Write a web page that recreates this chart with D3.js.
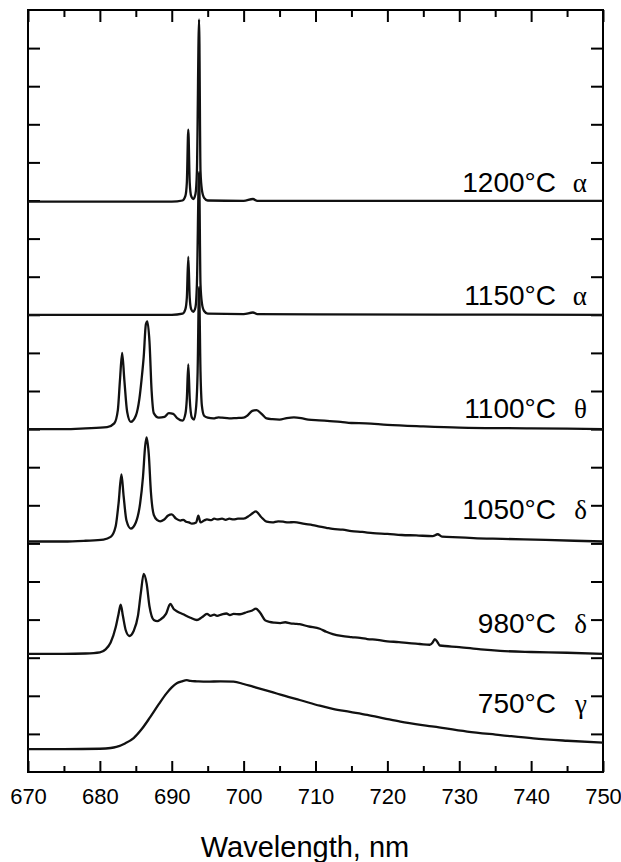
<!DOCTYPE html>
<html>
<head>
<meta charset="utf-8">
<script src="https://cdn.jsdelivr.net/npm/d3@7"></script>
<style>
  html, body { margin: 0; padding: 0; background: #fff; }
  svg { display: block; }
</style>
</head>
<body>
<svg id="chart" width="621" height="862"></svg>
<script>
// ---------------- data ----------------
const xTicksMajor = [670, 680, 690, 700, 710, 720, 730, 740, 750];
const xTicksMinor = [675, 685, 695, 705, 715, 725, 735, 745];
const yTicks = [1,2,3,4,5,6,7,8,9,10,11,12,13,14,15,16,17,18,19];

const temps  = ["750°C", "980°C", "1050°C", "1100°C", "1150°C", "1200°C"];
const phases = ["γ", "δ", "δ", "θ", "α", "α"];
const offsets = [0, 3.1, 6.05, 9.0, 12.0, 14.97];

const s750 = [
  [670,0.6],[675,0.6],[680,0.61],[681.5,0.63],[682.3,0.66],[683.5,0.75],[684.7,0.89],
  [685.8,1.12],[687,1.44],[688.2,1.78],[689.3,2.07],[690,2.22],[690.7,2.33],[691.4,2.38],
  [692.1,2.41],[692.6,2.39],[693.5,2.38],[694.9,2.37],[696.8,2.38],[698.6,2.37],[700,2.31],
  [701.3,2.24],[703,2.15],[704.6,2.06],[706.2,1.97],[707.8,1.89],[710.6,1.74],[712.4,1.66],
  [714.8,1.58],[717.2,1.50],[719.5,1.41],[721.8,1.32],[726.5,1.19],[731.1,1.06],
  [735.7,0.97],[740.3,0.88],[745,0.82],[750,0.77]
];
const s980 = [
  [670,0.0],[675,0.0],[678,0.01],[680,0.04],[680.8,0.12],[681.5,0.3],[682.2,0.7],[682.6,1.05],
  [682.9,1.29],[683.2,1.0],[683.6,0.62],[684.1,0.47],[684.7,0.6],[685.3,1.0],[685.7,1.6],
  [686.1,2.1],[686.5,1.85],[686.9,1.25],[687.5,0.89],[688.0,0.86],[688.4,0.9],[689.2,1.05],
  [689.8,1.31],[690.3,1.17],[690.7,1.12],[691.1,1.08],[691.6,1.04],[692,1.0],[692.6,0.95],
  [693.5,0.89],[694.2,0.96],[694.9,1.05],[695.4,1.0],[695.9,1.03],[696.3,1.0],[697.0,1.04],
  [697.6,1.06],[698.1,1.02],[698.6,1.05],[699.5,1.04],[700.5,1.1],[701.2,1.14],[701.7,1.19],
  [702.3,1.08],[703,0.88],[703.6,0.84],[704.3,0.82],[705.1,0.81],[705.8,0.83],[706.5,0.8],
  [707.2,0.79],[707.8,0.78],[709,0.72],[710.6,0.66],[711.5,0.58],[712.4,0.52],[713.6,0.47],
  [715,0.44],[716.2,0.42],[717.2,0.39],[718.6,0.37],[720,0.33],[721.6,0.31],[723,0.28],
  [724.5,0.26],[725.9,0.24],[726.3,0.3],[726.6,0.39],[727.0,0.3],[727.3,0.22],[730,0.18],
  [733,0.12],[735.7,0.08],[740,0.05],[745,0.03],[750,0.0]
];
const s1050 = [
  [670,0.0],[675,0.0],[678,0.02],[680.5,0.05],[681.5,0.12],[682.2,0.4],[682.6,1.0],[683.0,1.76],
  [683.3,1.2],[683.7,0.55],[684.3,0.34],[685.0,0.5],[685.6,1.0],[686.0,1.7],[686.3,2.5],
  [686.5,2.73],[686.8,2.3],[687.1,1.3],[687.5,0.7],[688.0,0.56],[688.4,0.53],[688.9,0.57],
  [689.5,0.68],[690.0,0.71],[690.6,0.6],[691.2,0.55],[691.6,0.57],[692.0,0.52],[692.4,0.5],
  [692.8,0.47],[693.4,0.5],[693.7,0.68],[694.0,0.5],[694.5,0.55],[694.9,0.58],[695.5,0.56],
  [695.9,0.6],[696.3,0.58],[697,0.6],[697.5,0.57],[698,0.6],[698.6,0.58],[699.2,0.6],
  [700,0.6],[700.8,0.68],[701.3,0.75],[701.7,0.79],[702.4,0.65],[703.2,0.52],[704,0.5],
  [704.8,0.53],[705.5,0.52],[706.2,0.5],[707,0.51],[708.5,0.46],[709.6,0.43],[710.6,0.39],
  [711.5,0.36],[712.4,0.33],[713.8,0.31],[715,0.27],[716.5,0.25],[718,0.22],[720,0.2],
  [722,0.17],[724,0.16],[726.3,0.14],[727,0.19],[727.6,0.13],[730,0.11],[732,0.09],
  [736,0.07],[742,0.04],[750,0.0]
];
const s1100 = [
  [670,0.0],[675,0.0],[678,0.02],[681,0.05],[682.0,0.15],[682.5,0.5],[682.8,1.3],[683.1,2.0],
  [683.4,1.3],[683.8,0.45],[684.3,0.19],[685.0,0.35],[685.5,0.8],[685.8,1.3],[686.1,1.9],
  [686.4,2.75],[686.6,2.83],[686.9,2.3],[687.2,1.0],[687.5,0.42],[688.2,0.3],[689.0,0.32],
  [689.6,0.42],[690.2,0.4],[690.8,0.28],[691.5,0.22],[691.9,0.4],[692.1,0.8],[692.3,1.7],
  [692.5,0.8],[692.8,0.3],[693.1,0.25],[693.4,0.6],[693.6,1.5],[693.8,3.73],[694.0,1.5],
  [694.2,0.6],[694.5,0.35],[695.0,0.3],[695.8,0.28],[696.5,0.31],[697,0.3],[698,0.28],
  [699,0.29],[700,0.3],[700.5,0.35],[701.2,0.48],[701.8,0.5],[702.5,0.4],[703.2,0.28],
  [704,0.26],[705,0.25],[706,0.29],[707,0.31],[708,0.29],[709,0.25],[710.5,0.23],[712,0.21],
  [713.5,0.19],[715,0.16],[717,0.15],[720,0.11],[725,0.07],[730,0.04],[740,0.02],[750,0.0]
];
const s1150 = [
  [670,0.0],[680,0.0],[690,0.0],[691.5,0.03],[691.9,0.15],[692.1,0.45],[692.3,1.52],
  [692.5,0.45],[692.7,0.15],[693.0,0.08],[693.3,0.2],[693.5,0.8],[693.8,3.75],[694.0,0.8],
  [694.2,0.3],[694.5,0.1],[695,0.03],[700,0.02],[701.3,0.06],[701.9,0.02],[710,0.01],[750,0.0]
];
const s1200 = [
  [670,0.0],[680,0.0],[690,0.0],[691.5,0.03],[691.9,0.15],[692.1,0.5],[692.3,1.89],
  [692.5,0.5],[692.7,0.15],[693.0,0.07],[693.3,0.2],[693.5,0.8],[693.8,4.78],[694.0,0.8],
  [694.2,0.3],[694.5,0.1],[695,0.03],[700,0.02],[701.3,0.07],[701.9,0.02],[710,0.02],[750,0.02]
];
const series = [s750, s980, s1050, s1100, s1150, s1200];

// ---------------- layout ----------------
const L = 28, R = 603, T = 10, B = 772;
const labelLift = [36, 21, 22, 11, 10, 10];

const svg = d3.select("#chart");
const x = d3.scaleLinear().domain([670, 750]).range([L, R]);
const y = d3.scaleLinear().domain([0, 20]).range([B, T]);

const sans = "'Liberation Sans', Arial, Helvetica, sans-serif";
const serif = "'Liberation Serif', 'Times New Roman', serif";

function styleAxis(g) {
  g.select(".domain").remove();
  g.selectAll(".tick line").attr("stroke", "#000").attr("stroke-width", 2);
}

// bottom axis: major (labelled) and minor
svg.append("g").attr("transform", `translate(0,${B})`)
  .call(d3.axisBottom(x).tickValues(xTicksMajor).tickSizeInner(-11).tickSizeOuter(0).tickPadding(16).tickFormat(d3.format("d")))
  .call(styleAxis)
  .call(g => g.selectAll("text").attr("font-family", sans).attr("font-size", 22).attr("fill", "#000"));
svg.append("g").attr("transform", `translate(0,${B})`)
  .call(d3.axisBottom(x).tickValues(xTicksMinor).tickSizeInner(-6).tickSizeOuter(0).tickFormat(""))
  .call(styleAxis);
// top axis
svg.append("g").attr("transform", `translate(0,${T})`)
  .call(d3.axisTop(x).tickValues(xTicksMajor).tickSizeInner(-12).tickSizeOuter(0).tickFormat(""))
  .call(styleAxis);
svg.append("g").attr("transform", `translate(0,${T})`)
  .call(d3.axisTop(x).tickValues(xTicksMinor).tickSizeInner(-7).tickSizeOuter(0).tickFormat(""))
  .call(styleAxis);
// left & right axes
svg.append("g").attr("transform", `translate(${L},0)`)
  .call(d3.axisLeft(y).tickValues(yTicks).tickSizeInner(-12).tickSizeOuter(0).tickFormat(""))
  .call(styleAxis);
svg.append("g").attr("transform", `translate(${R},0)`)
  .call(d3.axisRight(y).tickValues(yTicks).tickSizeInner(-12).tickSizeOuter(0).tickFormat(""))
  .call(styleAxis);

// frame
svg.append("rect").attr("x", L).attr("y", T).attr("width", R - L).attr("height", B - T)
  .attr("fill", "none").attr("stroke", "#000").attr("stroke-width", 2);

// traces
const line = d3.line().curve(d3.curveMonotoneX);
series.forEach((s, i) => {
  svg.append("path")
    .attr("d", line(s.map(d => [x(d[0]), y(d[1] + offsets[i])])))
    .attr("fill", "none").attr("stroke", "#111").attr("stroke-width", 2.3)
    .attr("stroke-linejoin", "round");
});

// labels
temps.forEach((t, i) => {
  const base = offsets[i] + (i === 0 ? series[0][0][1] : 0);
  const yy = y(base) - labelLift[i];
  svg.append("text").attr("x", 556).attr("y", yy)
    .attr("text-anchor", "end").attr("font-family", sans).attr("font-size", 28)
    .attr("fill", "#000").text(t);
  svg.append("text").attr("x", 587).attr("y", yy)
    .attr("text-anchor", "end").attr("font-family", serif).attr("font-size", 27)
    .attr("fill", "#000").text(phases[i]);
});

// x title
svg.append("text").attr("x", 305).attr("y", 857).attr("text-anchor", "middle")
  .attr("font-family", sans).attr("font-size", 29).attr("fill", "#000")
  .text("Wavelength, nm");
</script>
</body>
</html>
